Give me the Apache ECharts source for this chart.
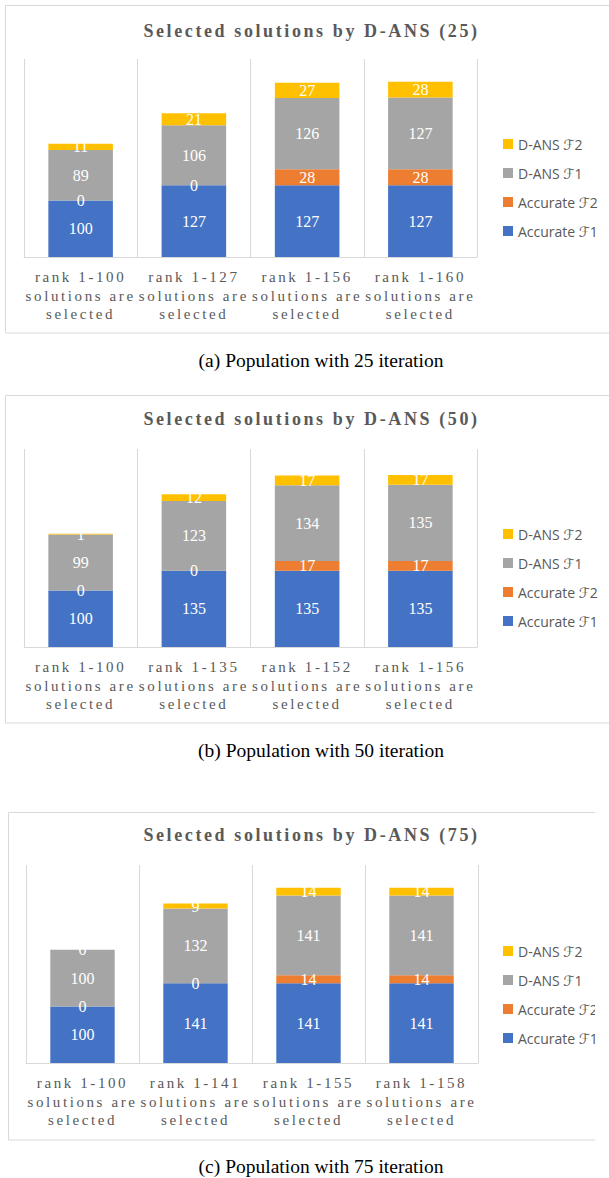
<!DOCTYPE html>
<html>
<head>
<meta charset="utf-8">
<script src="https://cdn.jsdelivr.net/npm/echarts@6/dist/echarts.min.js"></script>
<style>
  html, body { margin: 0; padding: 0; background: #fff; }
  #chart { width: 609px; height: 1178px; }
  /* spaced-out serif text (axis categories and panel headings) */
  #chart text[style*="Times New Roman"] { letter-spacing: 2.6px; }
  #chart text[style*="Times New Roman"][style*="bold"] { letter-spacing: 2.6px; }
</style>
</head>
<body>
<div id="chart"></div>
<script>
// ---- data ----
const seriesNames = ['Accurate ℱ1', 'Accurate ℱ2', 'D-ANS ℱ1', 'D-ANS ℱ2'];
const seriesColors = ['#4472C4', '#ED7D31', '#A5A5A5', '#FFC000'];

// panel (a): 25 iterations
const titleA = 'Selected solutions by D-ANS (25)';
const captionA = '(a) Population with 25 iteration';
const categoriesA = ['rank 1-100\nsolutions are\nselected', 'rank 1-127\nsolutions are\nselected',
                     'rank 1-156\nsolutions are\nselected', 'rank 1-160\nsolutions are\nselected'];
const accurateF1A = [100, 127, 127, 127];
const accurateF2A = [0, 0, 28, 28];
const dansF1A = [89, 106, 126, 127];
const dansF2A = [11, 21, 27, 28];

// panel (b): 50 iterations
const titleB = 'Selected solutions by D-ANS (50)';
const captionB = '(b) Population with 50 iteration';
const categoriesB = ['rank 1-100\nsolutions are\nselected', 'rank 1-135\nsolutions are\nselected',
                     'rank 1-152\nsolutions are\nselected', 'rank 1-156\nsolutions are\nselected'];
const accurateF1B = [100, 135, 135, 135];
const accurateF2B = [0, 0, 17, 17];
const dansF1B = [99, 123, 134, 135];
const dansF2B = [1, 12, 17, 17];

// panel (c): 75 iterations
const titleC = 'Selected solutions by D-ANS (75)';
const captionC = '(c) Population with 75 iteration';
const categoriesC = ['rank 1-100\nsolutions are\nselected', 'rank 1-141\nsolutions are\nselected',
                     'rank 1-155\nsolutions are\nselected', 'rank 1-158\nsolutions are\nselected'];
const accurateF1C = [100, 141, 141, 141];
const accurateF2C = [0, 0, 14, 14];
const dansF1C = [100, 132, 141, 141];
const dansF2C = [0, 9, 14, 14];

const yMax = 350;

// ---- layout ----
const SPACED_SERIF = 'Liberation Serif, Times New Roman, serif';
const SERIF = 'Liberation Serif, serif';
const SANS = 'Open Sans, DejaVu Sans, sans-serif';
const GREY_TEXT = '#595959';
const LINE = '#d9d9d9';

const panels = [
  { title: titleA, caption: captionA, cats: categoriesA,
    values: [accurateF1A, accurateF2A, dansF1A, dansF2A],
    box: { x: 5.5, y: 5.5, w: 610, h: 327.5 },
    grid: { left: 24, width: 453, top: 59, height: 198 },
    titleY: 31, legendTop: 137, captionY: 360 },
  { title: titleB, caption: captionB, cats: categoriesB,
    values: [accurateF1B, accurateF2B, dansF1B, dansF2B],
    box: { x: 5.5, y: 395.5, w: 610, h: 327.5 },
    grid: { left: 24, width: 453, top: 449, height: 198 },
    titleY: 419, legendTop: 527, captionY: 750 },
  { title: titleC, caption: captionC, cats: categoriesC,
    values: [accurateF1C, accurateF2C, dansF1C, dansF2C],
    box: { x: 8.5, y: 812.5, w: 600, h: 327.5 },
    grid: { left: 26, width: 452, top: 865, height: 198 },
    titleY: 835, legendTop: 944, captionY: 1166 }
];

const grids = [], xAxes = [], yAxes = [], legends = [], series = [], graphics = [];

panels.forEach((p, k) => {
  graphics.push({
    type: 'rect', silent: true, z: 0,
    shape: { x: p.box.x, y: p.box.y, width: p.box.w, height: p.box.h },
    style: { fill: 'none', stroke: LINE, lineWidth: 1 }
  });
  graphics.push({
    type: 'text', silent: true,
    x: 311.5, y: p.titleY,
    style: { text: p.title, fontFamily: SPACED_SERIF, fontWeight: 'bold', fontSize: 18,
             fill: GREY_TEXT, align: 'center', verticalAlign: 'middle' }
  });
  graphics.push({
    type: 'text', silent: true,
    x: 321, y: p.captionY,
    style: { text: p.caption, fontFamily: SERIF, fontSize: 19.5,
             fill: '#000', align: 'center', verticalAlign: 'middle' }
  });

  grids.push(Object.assign({ containLabel: false, outerBoundsMode: 'none' }, p.grid));
  xAxes.push({
    type: 'category', gridIndex: k, data: p.cats,
    axisTick: { show: false },
    axisLine: { lineStyle: { color: LINE, width: 1 } },
    splitLine: { show: true, lineStyle: { color: LINE, width: 1 } },
    axisLabel: { interval: 0, margin: 11, color: GREY_TEXT, fontFamily: SPACED_SERIF,
                 fontSize: 15, lineHeight: 18.5 }
  });
  yAxes.push({ type: 'value', gridIndex: k, min: 0, max: yMax, show: false,
               splitLine: { show: false } });
  legends.push({
    orient: 'vertical', left: 503, top: p.legendTop, padding: 0, icon: 'rect',
    itemWidth: 10, itemHeight: 10, itemGap: 15, itemTextGap: 4,
    selectedMode: false,
    data: seriesNames.slice().reverse(),
    textStyle: { fontFamily: SANS, fontSize: 14, color: GREY_TEXT, lineHeight: 14 }
  });

  seriesNames.forEach((name, i) => {
    series.push({
      type: 'bar', name: name, stack: 'panel' + k,
      xAxisIndex: k, yAxisIndex: k,
      data: p.values[i],
      barCategoryGap: '43%',
      itemStyle: { color: seriesColors[i] },
      label: { show: true, position: 'inside', color: '#fff', fontFamily: SERIF,
               fontSize: 16, textBorderWidth: 0 },
      emphasis: { disabled: true }
    });
  });
});

// the third panel is trimmed at its right edge
graphics.push({
  type: 'rect', silent: true, z: 100,
  shape: { x: 595, y: 805, width: 20, height: 340 },
  style: { fill: '#fff' }
});

const chart = echarts.init(document.getElementById('chart'), null, { renderer: 'svg' });
chart.setOption({
  animation: false,
  backgroundColor: '#fff',
  grid: grids,
  xAxis: xAxes,
  yAxis: yAxes,
  legend: legends,
  series: series,
  graphic: { elements: graphics }
});
</script>
</body>
</html>
